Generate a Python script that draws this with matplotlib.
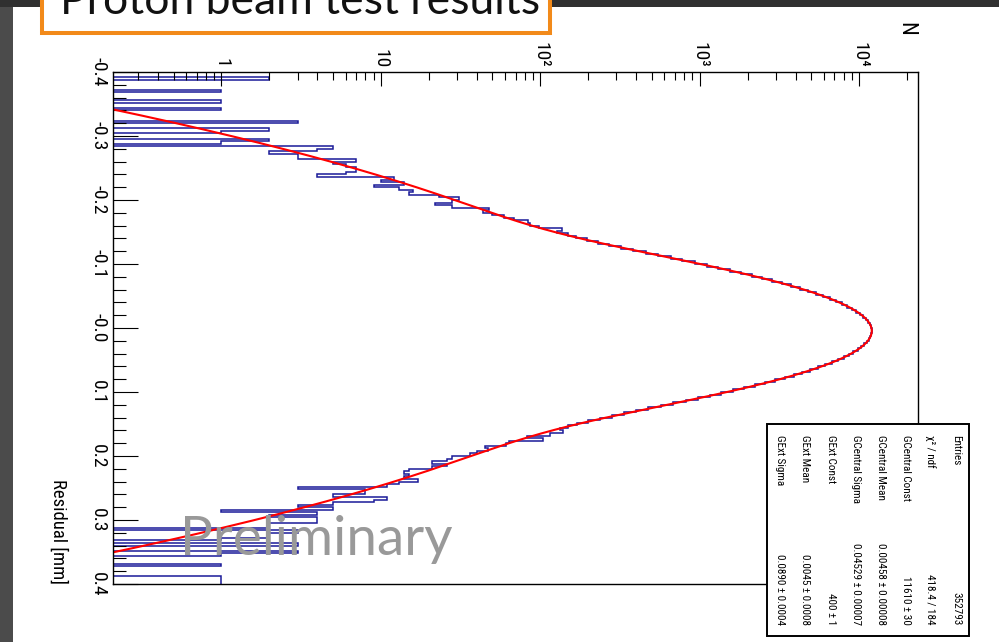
import numpy as np
import matplotlib
matplotlib.use("Agg")
import matplotlib.pyplot as plt
from matplotlib import font_manager
from matplotlib.patches import Rectangle
from matplotlib.ticker import FixedLocator, NullFormatter

# ---- data ----
# residual histogram, 200 bins from -0.4 to 0.4 mm (counts, top to bottom)
counts = [
    0, 0, 2, 0, 0, 0, 0, 1, 0, 0,
    0, 1, 0, 0, 1, 0, 0, 0, 0, 3,
    0, 0, 2, 1, 0, 0, 2, 1, 0, 5,
    4, 2, 3, 3, 7, 5, 6, 7, 7, 6,
    4, 12, 10, 14, 9, 13, 16, 15, 23, 31,
    28, 22, 28, 48, 44, 50, 59, 68, 84, 86,
    98, 136, 128, 150, 168, 196, 231, 270, 322, 384,
    460, 548, 656, 780, 930, 1105, 1310, 1545, 1815, 2120,
    2470, 2850, 3280, 3740, 4245, 4780, 5350, 5940, 6555, 7180,
    7810, 8430, 9035, 9610, 10150, 10635, 11060, 11420, 11690, 11880,
    11990, 12000, 11925, 11760, 11505, 11175, 10770, 10305, 9785, 9220,
    8620, 8005, 7375, 6750, 6125, 5525, 4945, 4400, 3880, 3405,
    2965, 2570, 2210, 1895, 1612, 1368, 1155, 970, 815, 680,
    570, 476, 398, 334, 281, 236, 200, 170, 150, 132,
    139, 115, 82, 104, 64, 61, 45, 47, 40, 36,
    28, 26, 21, 26, 21, 15, 14, 15, 14, 17,
    13, 11, 3, 8, 8, 5, 11, 9, 5, 3,
    5, 1, 4, 2, 4, 4, 2, 2, 0, 3,
    2, 2, 1, 0, 3, 0, 0, 3, 1, 0,
    0, 0, 1, 0, 0, 0, 0, 1, 1, 1,
]
res_min, res_max = -0.4, 0.4

# double gaussian fit parameters (from the stats box)
g_central = (11610, 0.00458, 0.04529)
g_ext = (400, 0.0045, 0.0890)

stat_names = ['Entries', 'χ² / ndf', 'GCentral Const', 'GCentral Mean',
              'GCentral Sigma', 'GExt Const', 'GExt Mean', 'GExt Sigma']
stat_values = ['352793', '418.4 / 184', '11610 ± 30', '0.00458 ± 0.00008',
               '0.04529 ± 0.00007', '400 ± 1', '0.0045 ± 0.0008', '0.0890 ± 0.0004']

res_ticks = [-0.4, -0.3, -0.2, -0.1, 0.0, 0.1, 0.2, 0.3, 0.4]
res_labels = ['-0.4', '-0.3', '-0.2', '-0.1', '-0.0', '0.1', '0.2', '0.3', '0.4']
n_ticks = [1, 10, 100, 1000, 10000]
n_labels = ['1', '10', '10²', '10³', '10⁴']

# ---- fonts: pick a narrow face if one is around ----
installed = {f.name for f in font_manager.fontManager.ttflist}
NARROW = 'Liberation Sans'
for cand in ['Liberation Sans Narrow', 'DejaVu Sans Condensed', 'Roboto Condensed',
             'Open Sans Condensed', 'Noto Sans Condensed']:
    if cand in installed:
        NARROW = cand
        break
FAM = [NARROW, 'DejaVu Sans']
plt.rcParams['font.family'] = FAM

W, H = 999, 642


def fx(px):
    return px / W


def fy(py):
    return 1 - py / H


def gauss(x, const, mean, sigma):
    return const * np.exp(-0.5 * ((x - mean) / sigma) ** 2)


fig = plt.figure(figsize=(W / 100, H / 100), dpi=100)
fig.patch.set_facecolor('white')

# slide background bands
fig.add_artist(Rectangle((0, 0), fx(13), 1, transform=fig.transFigure,
                         facecolor='#4b4b4b', edgecolor='none', zorder=0))
fig.add_artist(Rectangle((0, fy(7)), 1, 7 / H, transform=fig.transFigure,
                         facecolor='#303030', edgecolor='none', zorder=0))

ax = fig.add_axes([fx(113), fy(584), (918 - 113) / W, (584 - 72) / H])
ax.set_xscale('log')

h = np.array(counts, dtype=float)
edges = np.linspace(res_min, res_max, len(h) + 1)
ax.stairs(np.where(h > 0, h, 1e-3), edges, orientation='horizontal',
          baseline=None, color='#1a1a98', lw=1.1)

r = np.linspace(res_min, res_max, 1601)
fit = gauss(r, *g_central) + gauss(r, *g_ext)
ax.plot(fit, r, color='red', lw=1.5)

ax.set_xlim(0.2086, 23420)
ax.set_ylim(res_max, res_min)

# count axis (on top)
ax.xaxis.set_ticks_position('top')
ax.set_xticks(n_ticks, n_labels)
minor_x = [k * 10.0 ** e for e in range(-1, 5) for k in range(2, 10)]
ax.xaxis.set_minor_locator(FixedLocator(minor_x))
ax.xaxis.set_minor_formatter(NullFormatter())
ax.tick_params(axis='x', which='major', direction='in', length=10, width=0.8,
               pad=3, labelsize=14, labelrotation=270, top=True, bottom=False,
               labeltop=True, labelbottom=False)
ax.tick_params(axis='x', which='minor', direction='in', length=5.8, width=0.8,
               top=True, bottom=False)
for lbl in ax.get_xticklabels():
    lbl.set_va('bottom')
    lbl.set_ha('center')

# residual axis (on the left)
ax.set_yticks(res_ticks, res_labels)
ax.yaxis.set_minor_locator(FixedLocator(np.round(np.arange(-0.4, 0.401, 0.02), 3)))
ax.tick_params(axis='y', which='major', direction='in', length=18, width=0.8,
               pad=4.3, labelsize=14, labelrotation=270, left=True, right=False)
ax.tick_params(axis='y', which='minor', direction='in', length=9.5, width=0.8,
               left=True, right=False)
for lbl in ax.get_yticklabels():
    lbl.set_va('center')
    lbl.set_ha('right')

for s in ax.spines.values():
    s.set_linewidth(1.0)

fig.text(fx(58), fy(584), 'Residual [mm]', rotation=270, ha='center', va='bottom',
         fontsize=13.5)
fig.text(fx(906), fy(29), 'N', rotation=270, ha='center', va='center', fontsize=16)

# stats box
fig.add_artist(Rectangle((fx(767), fy(636)), (969 - 767) / W, (636 - 424) / H,
                         transform=fig.transFigure, facecolor='white',
                         edgecolor='black', lw=1.4, zorder=5))
for k, (name, val) in enumerate(zip(stat_names, stat_values)):
    x = fx(956 - 25.1 * k)
    fig.text(x, fy(435), name, rotation=270, ha='center', va='top',
             fontsize=8, zorder=6)
    fig.text(x, fy(625), val, rotation=270, ha='center', va='bottom',
             fontsize=8, zorder=6)

# watermark
fig.text(fx(180), fy(555), 'Preliminary', fontsize=39.5, color='#999999',
         family=['Lato', 'DejaVu Sans'], weight='normal', ha='left',
         va='baseline', zorder=7)

# slide title box (cut at the top edge, as on the slide)
fig.add_artist(Rectangle((fx(41.5), fy(32.5)), (550 - 41.5) / W, 60 / H,
                         transform=fig.transFigure, facecolor='white',
                         edgecolor='#f28a1a', lw=2.9, zorder=8))
fig.text(fx(60), fy(13.5), 'Proton beam test results', fontsize=32,
         family=['Lato', 'DejaVu Sans'], ha='left', va='baseline',
         color='#111111', zorder=9)

fig.savefig('out.png', dpi=100)
